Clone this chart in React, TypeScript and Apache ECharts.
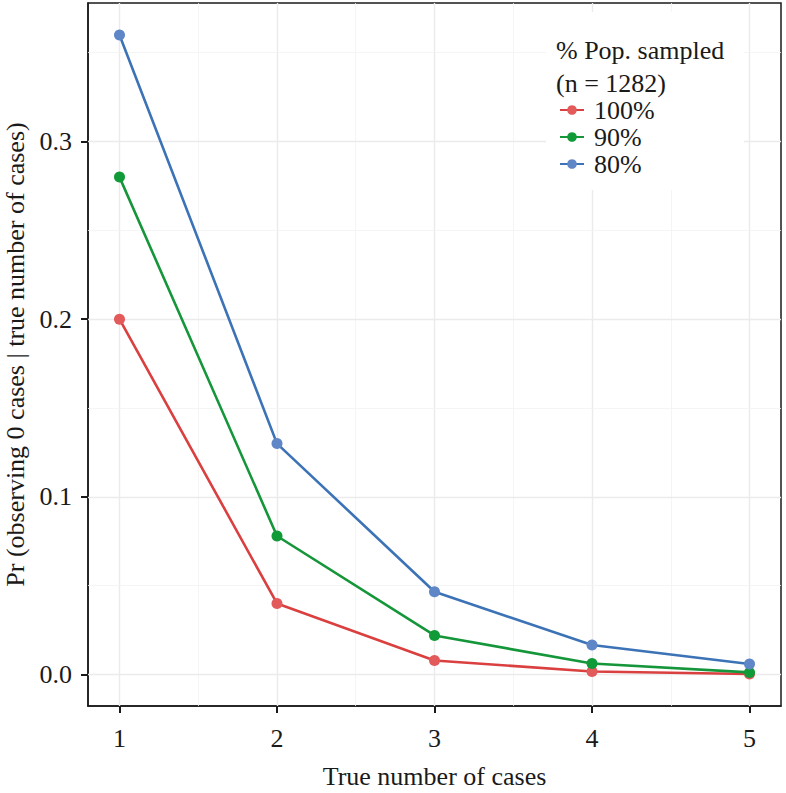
import React, { useEffect, useRef } from "react";
import * as echarts from "echarts";

const cases = [1, 2, 3, 4, 5];
const seriesNames = ["100%", "90%", "80%"];
const pop100 = [0.2, 0.04, 0.0079, 0.0017, 0.0003];
const pop90 = [0.28, 0.078, 0.022, 0.0062, 0.0012];
const pop80 = [0.36, 0.13, 0.0466, 0.0166, 0.0059];
const xTicks = [1, 2, 3, 4, 5];
const yTicks = [0, 0.1, 0.2, 0.3];
const xMinor = [1.5, 2.5, 3.5, 4.5];
const yMinor = [0.05, 0.15, 0.25, 0.35];

const lineColors = ["#d9403f", "#16963a", "#3c73b6"];
const pointColors = ["#e25a5a", "#119a38", "#5f86c6"];
const FONT = "'Liberation Serif', 'Times New Roman', serif";
const INK = "#1a1a1a";

export default function App() {
  const ref = useRef<HTMLDivElement>(null);
  useEffect(() => {
    if (!ref.current) return;
    const chart = echarts.init(ref.current, null, { renderer: "svg" });
    const values = [pop100, pop90, pop80];
    const gridMarks = {
      silent: true,
      z: 1,
      symbol: "none",
      label: { show: false },
      lineStyle: { type: "solid" },
      data: [
        ...xTicks.map((v) => ({ xAxis: v, lineStyle: { color: "#ebebeb", width: 1.4 } })),
        ...xMinor.map((v) => ({ xAxis: v, lineStyle: { color: "#f2f2f2", width: 0.8 } })),
        ...yTicks.map((v) => ({ yAxis: v, lineStyle: { color: "#ebebeb", width: 1.4 } })),
        ...yMinor.map((v) => ({ yAxis: v, lineStyle: { color: "#f2f2f2", width: 0.8 } })),
      ],
    };
    chart.setOption({
      animation: false,
      backgroundColor: "#ffffff",
      textStyle: { fontFamily: FONT },
      graphic: [
        { type: "rect", left: 546, top: 12, z: 2, shape: { width: 198, height: 178 }, style: { fill: "#ffffff" }, silent: true },
      ],
      title: {
        text: "% Pop. sampled\n(n = 1282)",
        left: 556,
        top: 34,
        padding: 0,
        textStyle: { fontFamily: FONT, fontSize: 26, fontWeight: "normal", color: INK, lineHeight: 33 },
      },
      legend: {
        data: seriesNames,
        orient: "vertical",
        left: 559,
        top: 97,
        padding: 0,
        itemWidth: 24,
        itemHeight: 12,
        itemGap: 1,
        textStyle: { fontFamily: FONT, fontSize: 26, color: INK, lineHeight: 26, padding: [0, 0, 0, 5] },
      },
      grid: {
        left: 88, top: 3, right: 5, bottom: 87,
        outerBoundsMode: "none",
        containLabel: false,
        show: true, borderColor: INK, borderWidth: 1.5, backgroundColor: "transparent",
      },
      xAxis: {
        type: "value",
        min: 0.8,
        max: 5.2,
        name: "True number of cases",
        nameLocation: "middle",
        nameGap: 57,
        nameTextStyle: { fontFamily: FONT, fontSize: 26, color: INK },
        axisLine: { show: true, onZero: false, lineStyle: { color: INK, width: 1.5 } },
        axisTick: { show: true, inside: false, customValues: xTicks, length: 7, lineStyle: { color: INK, width: 2 } },
        axisLabel: { customValues: xTicks, margin: 19, fontFamily: FONT, fontSize: 26, color: INK },
        splitLine: { show: false },
      },
      yAxis: {
        type: "value",
        min: -0.0177,
        max: 0.378,
        name: "Pr (observing 0 cases | true number of cases)",
        nameLocation: "middle",
        nameGap: 60,
        nameTextStyle: { fontFamily: FONT, fontSize: 26, color: INK },
        axisLine: { show: true, onZero: false, lineStyle: { color: INK, width: 1.5 } },
        axisTick: { show: true, inside: false, customValues: yTicks, length: 7, lineStyle: { color: INK, width: 2 } },
        axisLabel: { customValues: yTicks, margin: 16, fontFamily: FONT, fontSize: 26, color: INK, formatter: (v: number) => v.toFixed(1) },
        splitLine: { show: false },
      },
      series: [
        { type: "line", name: "_grid", data: [], z: 1, markLine: gridMarks, silent: true },
        ...seriesNames.map((n, i) => ({
          type: "line",
          name: n,
          data: cases.map((c, j) => [c, values[i][j]]),
          symbol: "circle",
          symbolSize: 11,
          showSymbol: true,
          z: 3 + i,
          lineStyle: { color: lineColors[i], width: 2.6 },
          itemStyle: { color: pointColors[i], borderWidth: 0 },
        })),
      ],
    });
    return () => chart.dispose();
  }, []);
  return <div ref={ref} style={{ width: 786, height: 793, position: "absolute", left: 0, top: 0 }} />;
}
